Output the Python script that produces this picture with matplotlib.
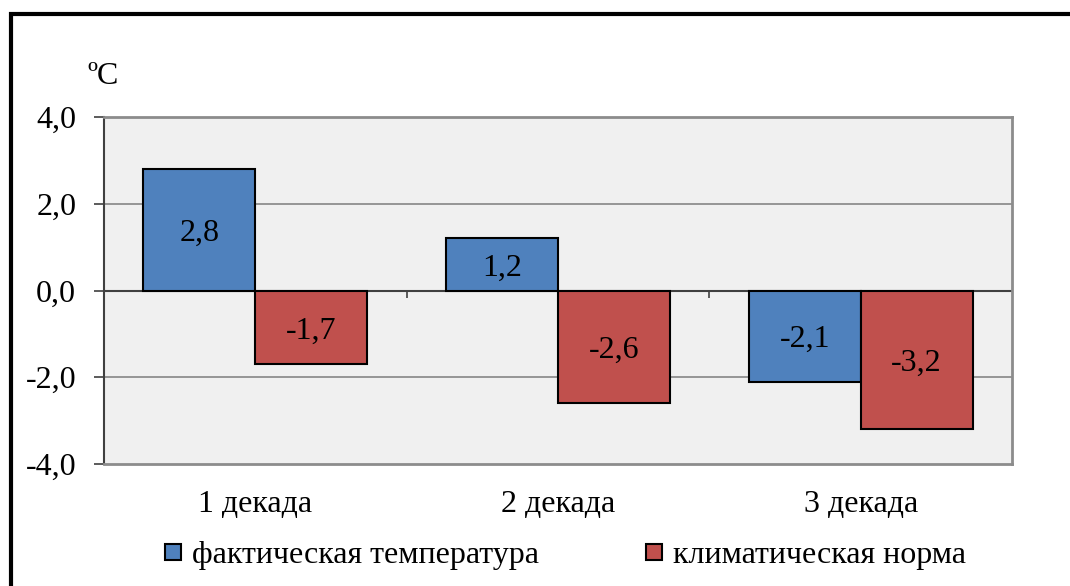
import matplotlib
matplotlib.use("Agg")
import numpy as np
from matplotlib import pyplot as plt
from matplotlib.patches import Rectangle
from matplotlib.lines import Line2D

# Data
categories = ["1 декада", "2 декада", "3 декада"]
factTemp = [2.8, 1.2, -2.1]
climateNorm = [-1.7, -2.6, -3.2]
seriesNames = ["фактическая температура", "климатическая норма"]

BLUE = "#4F81BD"
RED = "#C0504D"
GRID = "#868686"

plt.rcParams["font.family"] = ["Liberation Serif", "DejaVu Serif"]
FS = 23

fig = plt.figure(figsize=(10.7, 5.86), dpi=100)
ax = fig.add_axes([104/1070, 1-464/586, (1012-104)/1070, (464-117)/586])
ax.set_facecolor("#F0F0F0")

x = np.arange(len(categories))
barWidth = 0.37
blueBars = ax.bar(x - barWidth/2, factTemp, barWidth, color=BLUE, edgecolor="black", linewidth=1.5, zorder=3)
redBars = ax.bar(x + barWidth/2, climateNorm, barWidth, color=RED, edgecolor="black", linewidth=1.5, zorder=3)

# value labels in the middle of each bar
for bars, vals in [(blueBars, factTemp), (redBars, climateNorm)]:
    for b, v in zip(bars, vals):
        ax.text(b.get_x() + b.get_width()/2, v/2, f"{v:.1f}".replace(".", ","),
                ha="center", va="center_baseline", fontsize=FS, zorder=4)

ax.set_xlim(-0.5, 2.5)
ax.set_ylim(-4, 4)
yticks = [-4, -2, 0, 2, 4]
ax.set_yticks(yticks)
ax.set_yticklabels([f"{t:.1f}".replace(".", ",") for t in yticks], fontsize=FS)
ax.tick_params(axis="y", length=7, width=1.2, color="#404040", pad=13)
ax.set_xticks(x)
ax.set_xticklabels(categories, fontsize=FS)
ax.tick_params(axis="x", length=0, pad=19)

# grid lines and the zero line
for t in [2, -2]:
    ax.axhline(t, color=GRID, linewidth=1.2, zorder=1)
ax.axhline(0, color="#404040", linewidth=1.5, zorder=2)
# category separator ticks hanging from the zero line
ax.vlines([0.5, 1.5], -0.17, 0, color="#404040", linewidth=1.2, zorder=2)

for side in ["top", "right", "bottom"]:
    ax.spines[side].set_color("#8C8C8C")
    ax.spines[side].set_linewidth(2)
ax.spines["left"].set_color("#404040")
ax.spines["left"].set_linewidth(1.5)

# unit label above the axis
fig.text(87/1070, 1-84/586, "ºC", fontsize=FS, ha="left", va="baseline")

# legend
handles = [Line2D([], [], linestyle="", marker="s", markersize=12, markerfacecolor=c,
                  markeredgecolor="black", markeredgewidth=1.5) for c in (BLUE, RED)]
fig.legend(handles, seriesNames, loc="center", bbox_to_anchor=(563/1070, 1-555/586), ncol=2,
           frameon=False, fontsize=FS, handletextpad=0.2, columnspacing=3.2, handlelength=0.8,
           borderpad=0, borderaxespad=0)

# outer frame of the picture (only left and top edges visible)
fig.patches.append(Rectangle((11/1070, -0.1), 1.2, 1-14/586+0.1, transform=fig.transFigure,
                             fill=False, edgecolor="black", linewidth=3))

fig.savefig("out.png", dpi=100, facecolor="white")
